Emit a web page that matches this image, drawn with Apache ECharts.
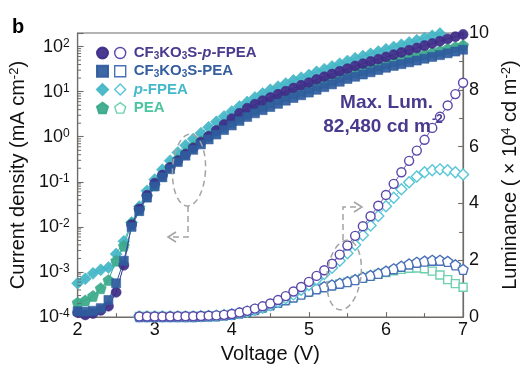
<!DOCTYPE html>
<html>
<head>
<meta charset="utf-8">
<script src="https://cdn.jsdelivr.net/npm/echarts@6/dist/echarts.min.js"></script>
<style>
  html, body { margin: 0; padding: 0; background: #fff; }
  #chart { width: 528px; height: 369px; }
</style>
</head>
<body>
<div id="chart"></div>
<script>
// Applied voltage (V)
const voltage = [
  2.0, 2.1, 2.2, 2.3, 2.4, 2.5, 2.6, 2.7, 2.8, 2.9,
  3.0, 3.1, 3.2, 3.3, 3.4, 3.5, 3.6, 3.7, 3.8, 3.9,
  4.0, 4.1, 4.2, 4.3, 4.4, 4.5, 4.6, 4.7, 4.8, 4.9,
  5.0, 5.1, 5.2, 5.3, 5.4, 5.5, 5.6, 5.7, 5.8, 5.9,
  6.0, 6.1, 6.2, 6.3, 6.4, 6.5, 6.6, 6.7, 6.8, 6.9, 7.0
];

// Current density (mA cm^-2)
const jCfPFpea = [
  1.26e-4, 1.12e-4, 1.20e-4, 1.41e-4, 1.74e-4, 3.55e-4, 1.41e-3, 1.12e-2, 2.51e-2, 5.01e-2,
  0.0933, 0.141, 0.209, 0.295, 0.407, 0.562, 0.759, 1.02, 1.38, 1.86,
  2.51, 3.31, 4.27, 5.25, 6.31, 7.41, 8.71, 10.2, 12.0, 13.8,
  15.8, 18.6, 21.4, 24.5, 28.2, 32.4, 37.2, 41.7, 46.8, 52.5,
  58.9, 66.1, 74.1, 83.2, 93.3, 105, 117, 132, 148, 166, 186
];
const jCfPea = [
  1.35e-4, 1.32e-4, 1.38e-4, 1.58e-4, 2.40e-4, 5.62e-4, 1.78e-3, 1.00e-2, 2.24e-2, 4.47e-2,
  0.0794, 0.126, 0.191, 0.275, 0.380, 0.513, 0.676, 0.871, 1.12, 1.41,
  1.78, 2.24, 2.75, 3.31, 3.89, 4.57, 5.37, 6.31, 7.24, 8.32,
  9.55, 11.0, 12.6, 14.5, 16.6, 19.1, 21.4, 24.0, 26.9, 30.2,
  33.9, 37.2, 40.7, 44.7, 49.0, 53.7, 58.9, 64.6, 70.8, 77.6, 85.1
];
const jPFpea = [
  5.62e-4, 7.08e-4, 9.33e-4, 1.12e-3, 1.26e-3, 2.51e-3, 4.79e-3, 1.26e-2, 2.82e-2, 6.31e-2,
  0.112, 0.186, 0.295, 0.447, 0.646, 0.891, 1.20, 1.62, 2.14, 2.82,
  3.63, 4.68, 5.89, 7.41, 9.12, 11.0, 12.9, 15.1, 17.8, 20.4,
  23.4, 27.5, 31.6, 36.3, 41.7, 47.9, 55.0, 61.7, 69.2, 77.6,
  87.1, 97.7, 110, 123, 138, 155, 174, 195, 219, 245, 275
];
const jPea = [
  2.09e-4, 2.34e-4, 2.95e-4, 4.37e-4, 6.61e-4, 1.78e-3, 3.80e-3, 1.20e-2, 2.40e-2, 4.79e-2,
  0.0832, 0.135, 0.209, 0.309, 0.437, 0.603, 0.794, 1.02, 1.32, 1.66,
  2.09, 2.63, 3.24, 3.98, 4.79, 5.75, 6.76, 7.94, 9.12, 10.5,
  12.0, 13.8, 15.8, 18.2, 20.9, 24.0, 26.9, 30.2, 33.9, 38.0,
  42.7, 46.8, 51.3, 56.2, 61.7, 67.6, 74.1, 81.3, 89.1, 97.7, 107
];

// Luminance (x 10^4 cd m^-2); no reading below 2.8 V
const lCfPFpea = [
  null, null, null, null, null, null, null, null, 0.02, 0.02,
  0.02, 0.02, 0.02, 0.03, 0.03, 0.03, 0.04, 0.05, 0.06, 0.08,
  0.11, 0.16, 0.22, 0.30, 0.38, 0.48, 0.60, 0.74, 0.90, 1.06,
  1.24, 1.45, 1.65, 1.88, 2.20, 2.52, 2.86, 3.20, 3.55, 3.92,
  4.30, 4.69, 5.10, 5.50, 5.86, 6.24, 6.66, 7.05, 7.45, 7.85, 8.248
];
const lCfPea = [
  null, null, null, null, null, null, null, null, 0.02, 0.02,
  0.02, 0.02, 0.02, 0.02, 0.02, 0.02, 0.03, 0.04, 0.05, 0.07,
  0.10, 0.14, 0.20, 0.27, 0.35, 0.43, 0.52, 0.61, 0.71, 0.81,
  0.91, 1.00, 1.07, 1.13, 1.19, 1.25, 1.32, 1.40, 1.47, 1.54,
  1.62, 1.70, 1.79, 1.87, 1.93, 1.97, 2.00, 2.00, 1.96, 1.84, 1.68
];
const lPFpea = [
  null, null, null, null, null, null, null, null, 0.02, 0.02,
  0.02, 0.02, 0.02, 0.02, 0.02, 0.02, 0.03, 0.04, 0.05, 0.07,
  0.10, 0.14, 0.19, 0.25, 0.33, 0.42, 0.53, 0.66, 0.80, 0.96,
  1.13, 1.32, 1.52, 1.74, 1.98, 2.25, 2.55, 2.88, 3.22, 3.56,
  3.90, 4.20, 4.50, 4.75, 4.95, 5.10, 5.17, 5.20, 5.17, 5.10, 5.02
];
const lPea = [
  null, null, null, null, null, null, null, null, 0.02, 0.02,
  0.02, 0.02, 0.02, 0.02, 0.02, 0.02, 0.03, 0.04, 0.05, 0.06,
  0.09, 0.13, 0.18, 0.25, 0.33, 0.41, 0.50, 0.59, 0.69, 0.79,
  0.89, 0.98, 1.05, 1.11, 1.17, 1.23, 1.30, 1.37, 1.44, 1.51,
  1.57, 1.63, 1.68, 1.72, 1.73, 1.70, 1.62, 1.48, 1.32, 1.18, 1.05
];

// Axis ranges and tick labels
const voltageTicks = [2, 3, 4, 5, 6, 7];
const jDecades = [-4, -3, -2, -1, 0, 1, 2];
const lumTicks = [0, 2, 4, 6, 8, 10];
const maxLumTitle = 'Max. Lum.';
const maxLumValue = '82,480 cd m';
const maxLumUnitExp = '-2';

const FONT = '"Liberation Sans", Arial, Helvetica, sans-serif';
const AXIS = '#6f6b68';

const C = {
  purple: '#3d2c88', purpleOpen: '#5b47aa', purpleText: '#4a3a8e',
  blue: '#2f5d9e', blueOpen: '#4a70b8', blueText: '#355e9e',
  cyan: '#43b6c6', cyanOpen: '#58c6d6', cyanText: '#45b9c9',
  teal: '#3aa98a', tealOpen: '#6dd0b0', tealText: '#4cc4a0'
};
const PENTAGON = 'path://M0,-10L9.51,-3.09L5.88,8.09L-5.88,8.09L-9.51,-3.09Z';

const pairs = (ys) => voltage.map((v, i) => [v, ys[i]]).filter(p => p[1] != null);

function filledSeries(name, ys, symbol, size, color, z) {
  return {
    name, type: 'line', xAxisIndex: 0, yAxisIndex: 0, data: pairs(ys),
    symbol, symbolSize: size, showAllSymbol: true, z,
    lineStyle: { width: 1, color },
    itemStyle: { color, opacity: 0.93, borderColor: color, borderWidth: 0.6 },
    emphasis: { disabled: true }, animation: false
  };
}
function openSeries(name, ys, symbol, size, color, z) {
  return {
    name, type: 'line', xAxisIndex: 0, yAxisIndex: 1, data: pairs(ys),
    symbol, symbolSize: size, showAllSymbol: true, z,
    lineStyle: { width: 0.9, color },
    itemStyle: { color: '#ffffff', borderColor: color, borderWidth: 1.4 },
    emphasis: { disabled: true }, animation: false
  };
}

// Log-axis minor ticks (2..9 x 10^n)
const minorJ = [];
jDecades.slice(0, -1).forEach(d => {
  for (let m = 2; m <= 9; m++) minorJ.push([2, m * Math.pow(10, d)]);
});

// Dashed ellipse outline as polygon points
function ellipsePoints(cx, cy, rx, ry, rot) {
  const pts = [];
  const c = Math.cos(rot), s = Math.sin(rot);
  for (let k = 0; k < 72; k++) {
    const t = (k / 72) * Math.PI * 2;
    const x = rx * Math.cos(t), y = ry * Math.sin(t);
    pts.push([cx + x * c - y * s, cy + x * s + y * c]);
  }
  return pts;
}
const dashStyle = { stroke: '#a3a3a3', fill: null, lineWidth: 1.5, lineDash: [6, 4] };
const arrowStyle = { stroke: '#a3a3a3', fill: null, lineWidth: 1.5 };

const supRich = { sup: { fontSize: 12, verticalAlign: 'top', lineHeight: 12, fontFamily: FONT, color: '#111' } };
const legendRich = {
  sub: { fontSize: 10, fontWeight: 'bold', verticalAlign: 'bottom', lineHeight: 9, fontFamily: FONT },
  it: { fontSize: 15, fontWeight: 'bold', fontStyle: 'italic', lineHeight: 16, fontFamily: FONT }
};
const legendLabels = {
  'CF3KO3S-p-FPEA L': 'CF{sub|3}KO{sub|3}S-{it|p}-FPEA',
  'CF3KO3S-PEA L': 'CF{sub|3}KO{sub|3}S-PEA',
  'p-FPEA L': '{it|p}-FPEA',
  'PEA L': 'PEA'
};
const legendText = { fontFamily: FONT, fontSize: 15, fontWeight: 'bold', lineHeight: 16, padding: [0, 0, 0, 3], rich: legendRich };

const chart = echarts.init(document.getElementById('chart'), null, { renderer: 'canvas' });

chart.setOption({
  backgroundColor: '#ffffff',
  animation: false,
  grid: { left: 76, right: 46, top: 33, bottom: 46, show: true, borderColor: AXIS, borderWidth: 1.2 },
  xAxis: [{
    type: 'value', min: voltageTicks[0], max: voltageTicks[voltageTicks.length - 1], interval: 1,
    name: 'Voltage (V)', nameLocation: 'middle', nameGap: 22,
    nameTextStyle: { fontFamily: FONT, fontSize: 20, color: '#111' },
    axisLine: { show: true, lineStyle: { color: AXIS, width: 1.2 } },
    axisTick: { show: true, inside: true, length: 5, lineStyle: { color: AXIS, width: 1.1 } },
    minorTick: { show: true, splitNumber: 2, length: 4, lineStyle: { color: AXIS, width: 1.1 } },
    axisLabel: { fontFamily: FONT, fontSize: 18, color: '#111', margin: 4 },
    splitLine: { show: false }
  }],
  yAxis: [{
    type: 'log', logBase: 10, min: 1e-4, max: 200, interval: 1, position: 'left',
    name: 'Current density (mA cm{sup|-2})', nameLocation: 'middle', nameRotate: 90, nameGap: 46,
    nameTextStyle: { fontFamily: FONT, fontSize: 20, color: '#111', rich: { sup: { fontSize: 13, verticalAlign: 'top', lineHeight: 12, fontFamily: FONT, color: '#111' } } },
    axisLine: { show: true, lineStyle: { color: AXIS, width: 1.2 } },
    axisTick: { show: true, inside: true, length: 6, lineStyle: { color: AXIS, width: 1.1 } },
    axisLabel: {
      fontFamily: FONT, fontSize: 18, color: '#111', margin: 8, rich: supRich,
      formatter: (v) => {
        const e = Math.log10(v), n = Math.round(e);
        if (Math.abs(e - n) > 1e-6 || jDecades.indexOf(n) < 0) return '';
        return '10{sup|' + n + '}';
      }
    },
    splitLine: { show: false }
  }, {
    type: 'value', min: lumTicks[0], max: lumTicks[lumTicks.length - 1], interval: 2, position: 'right',
    name: 'Luminance ( \u00d7 10{sup|4} cd m{sup|-2})', nameLocation: 'middle', nameRotate: 90, nameGap: 25,
    nameTextStyle: { fontFamily: FONT, fontSize: 20, color: '#111', rich: { sup: { fontSize: 13, verticalAlign: 'top', lineHeight: 12, fontFamily: FONT, color: '#111' } } },
    axisLine: { show: true, lineStyle: { color: AXIS, width: 1.2 } },
    axisTick: { show: true, inside: true, length: 5, lineStyle: { color: AXIS, width: 1.1 } },
    minorTick: { show: true, splitNumber: 2, length: 4, lineStyle: { color: AXIS, width: 1.1 } },
    axisLabel: { fontFamily: FONT, fontSize: 18, color: '#111', margin: 6 },
    splitLine: { show: false }
  }],
  legend: [{
    orient: 'vertical', left: 91, top: 40, itemWidth: 11, itemHeight: 11, itemGap: 2.3,
    selectedMode: false, formatter: () => ' ',
    textStyle: legendText,
    data: [
      { name: 'CF3KO3S-p-FPEA J', icon: 'circle', itemStyle: { color: C.purple } },
      { name: 'CF3KO3S-PEA J', icon: 'rect', itemStyle: { color: C.blue } },
      { name: 'p-FPEA J', icon: 'diamond', itemStyle: { color: C.cyan } },
      { name: 'PEA J', icon: PENTAGON, itemStyle: { color: C.teal } }
    ]
  }, {
    orient: 'vertical', left: 109, top: 40, itemWidth: 11, itemHeight: 11, itemGap: 2.3,
    selectedMode: false,
    formatter: (name) => legendLabels[name],
    textStyle: legendText,
    data: [
      { name: 'CF3KO3S-p-FPEA L', icon: 'circle', itemStyle: { color: '#fff', borderColor: C.purpleOpen, borderWidth: 1.4 }, textStyle: { color: C.purpleText } },
      { name: 'CF3KO3S-PEA L', icon: 'rect', itemStyle: { color: '#fff', borderColor: C.blueOpen, borderWidth: 1.4 }, textStyle: { color: C.blueText } },
      { name: 'p-FPEA L', icon: 'diamond', itemStyle: { color: '#fff', borderColor: C.cyanOpen, borderWidth: 1.4 }, textStyle: { color: C.cyanText } },
      { name: 'PEA L', icon: PENTAGON, itemStyle: { color: '#fff', borderColor: C.tealOpen, borderWidth: 1.4 }, textStyle: { color: C.tealText } }
    ]
  }],
  series: [
    filledSeries('p-FPEA J', jPFpea, 'diamond', 12, C.cyan, 2),
    filledSeries('CF3KO3S-p-FPEA J', jCfPFpea, 'circle', 10, C.purple, 3),
    filledSeries('PEA J', jPea, PENTAGON, 11, C.teal, 2),
    filledSeries('CF3KO3S-PEA J', jCfPea, 'rect', 9, C.blue, 3),
    openSeries('PEA L', lPea, 'rect', 8, C.tealOpen, 4),
    openSeries('CF3KO3S-PEA L', lCfPea, PENTAGON, 10, C.blueOpen, 4),
    openSeries('p-FPEA L', lPFpea, 'diamond', 11, C.cyanOpen, 4),
    openSeries('CF3KO3S-p-FPEA L', lCfPFpea, 'circle', 9, C.purpleOpen, 5),
    {
      type: 'custom', xAxisIndex: 0, yAxisIndex: 0, silent: true, clip: false, z: 6,
      data: minorJ,
      renderItem: (params, api) => {
        const p = api.coord([api.value(0), api.value(1)]);
        return { type: 'line', shape: { x1: p[0], y1: p[1], x2: p[0] + 3.5, y2: p[1] },
                 style: { stroke: AXIS, lineWidth: 1 } };
      }
    }
  ],
  graphic: [
    { type: 'text', left: 12, top: 17, z: 30, style: { text: 'b', font: 'bold 20px ' + FONT, fill: '#000' } },
    { type: 'text', x: 433, y: 103, z: 30, style: { text: maxLumTitle, font: 'bold 19px ' + FONT, fill: C.purpleText, align: 'right', verticalAlign: 'middle' } },
    { type: 'text', x: 431, y: 127, z: 30, style: { text: maxLumValue, font: 'bold 19px ' + FONT, fill: C.purpleText, align: 'right', verticalAlign: 'middle' } },
    { type: 'text', x: 432, y: 120, z: 30, style: { text: maxLumUnitExp, font: 'bold 12px ' + FONT, fill: C.purpleText, align: 'left', verticalAlign: 'middle' } },
    // J-V group marker, pointing to the left axis
    { type: 'polygon', z: 10, shape: { points: ellipsePoints(189, 170, 16.5, 36, 0.05) }, style: dashStyle },
    { type: 'polyline', z: 10, shape: { points: [[188, 206], [188, 237], [172, 237]] }, style: dashStyle },
    { type: 'polyline', z: 10, shape: { points: [[176, 232], [168, 237], [176, 242]] }, style: arrowStyle },
    // L-V group marker, pointing to the right axis
    { type: 'polygon', z: 10, shape: { points: ellipsePoints(344, 275, 17, 35, 0.12) }, style: dashStyle },
    { type: 'polyline', z: 10, shape: { points: [[343, 240], [343, 207], [358, 207]] }, style: dashStyle },
    { type: 'polyline', z: 10, shape: { points: [[354, 202], [362, 207], [354, 212]] }, style: arrowStyle }
  ]
});
</script>
</body>
</html>
